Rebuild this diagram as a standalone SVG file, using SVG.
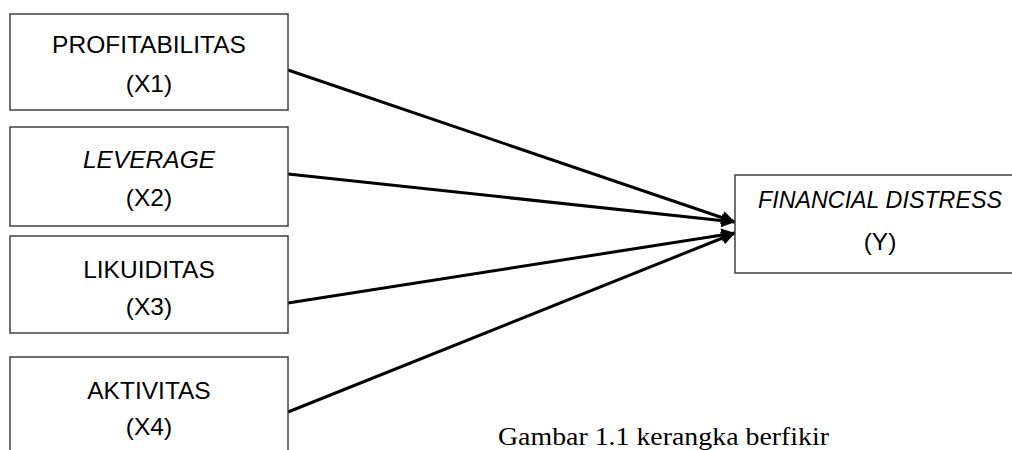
<svg xmlns="http://www.w3.org/2000/svg" width="1012" height="450" viewBox="0 0 1012 450">
<defs>
<style>
.box{fill:#fff;stroke:#404040;stroke-width:1.5}
.t{font-family:"Liberation Sans",Arial,sans-serif;font-size:24.5px;fill:#000;text-anchor:middle}
.i{font-style:italic}
.cap{font-family:"Liberation Serif","Times New Roman",serif;font-size:25.5px;fill:#000}
.c{stroke:#000;stroke-width:3;fill:none}
</style>
<marker id="ah" viewBox="0 0 10 10" refX="10" refY="5" markerWidth="5.5" markerHeight="4.5" orient="auto" markerUnits="strokeWidth">
<path d="M0,0 L10,5 L0,10 z" fill="#000"/>
</marker>
</defs>
<rect width="1012" height="450" fill="#fff"/>
<g id="connectors">
<line class="c" x1="288" y1="70" x2="735" y2="222" marker-end="url(#ah)"/>
<line class="c" x1="288" y1="174" x2="735" y2="222" marker-end="url(#ah)"/>
<line class="c" x1="288" y1="303" x2="735" y2="233" marker-end="url(#ah)"/>
<line class="c" x1="288" y1="412" x2="735" y2="233" marker-end="url(#ah)"/>
</g>
<g id="x1">
<rect class="box" x="10" y="14" width="278" height="96"/>
<text class="t" x="149" y="53">PROFITABILITAS</text>
<text class="t" x="149" y="92">(X1)</text>
</g>
<g id="x2">
<rect class="box" x="10" y="127" width="278" height="99"/>
<text class="t i" x="149" y="168">LEVERAGE</text>
<text class="t" x="149" y="206">(X2)</text>
</g>
<g id="x3">
<rect class="box" x="10" y="236" width="278" height="97"/>
<text class="t" x="149" y="278">LIKUIDITAS</text>
<text class="t" x="149" y="315">(X3)</text>
</g>
<g id="x4">
<rect class="box" x="10" y="357" width="278" height="110"/>
<text class="t" x="149" y="399">AKTIVITAS</text>
<text class="t" x="149" y="435">(X4)</text>
</g>
<g id="y">
<rect class="box" x="735" y="175" width="300" height="98"/>
<text class="t i" x="880" y="208" textLength="244" lengthAdjust="spacingAndGlyphs">FINANCIAL DISTRESS</text>
<text class="t" x="880" y="250">(Y)</text>
</g>
<text class="cap" x="498" y="445" textLength="331" lengthAdjust="spacingAndGlyphs">Gambar 1.1 kerangka berfikir</text>
</svg>
